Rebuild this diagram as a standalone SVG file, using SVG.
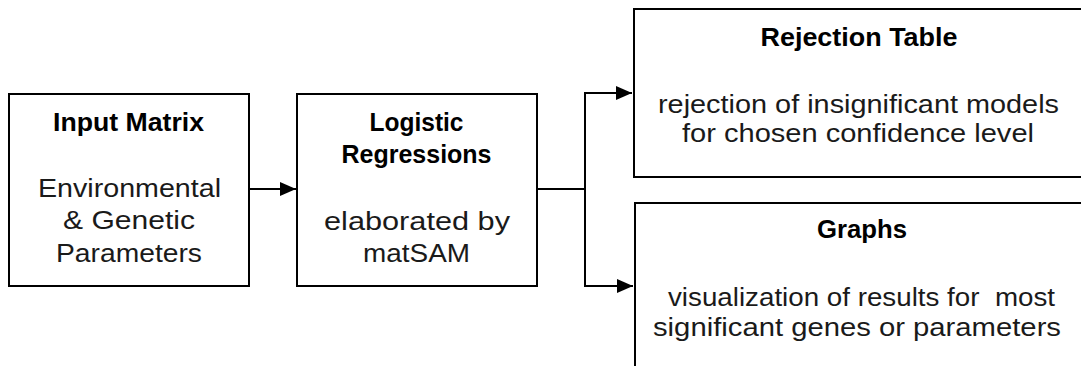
<svg xmlns="http://www.w3.org/2000/svg" width="1081" height="366" viewBox="0 0 1081 366">
  <style>
    .box { fill: #ffffff; stroke: #000000; stroke-width: 2; }
    .title { font-family: "Liberation Sans", Arial, sans-serif; font-weight: bold; font-size: 25px; fill: #000000; text-anchor: middle; }
    .body { font-family: "Liberation Sans", Arial, sans-serif; font-size: 25px; fill: #1a1a1a; text-anchor: middle; white-space: pre; }
    .wire { fill: none; stroke: #000000; stroke-width: 2; }
  </style>
  <defs>
    <marker id="arrow" markerUnits="userSpaceOnUse" markerWidth="17" markerHeight="15" refX="16" refY="7" orient="auto">
      <path d="M0,0 L16,7 L0,14 Z" fill="#000000"/>
    </marker>
  </defs>
  <rect width="1081" height="366" fill="#ffffff"/>

  <g id="connectors">
    <line class="wire" x1="249" y1="189" x2="296" y2="189" marker-end="url(#arrow)"/>
    <polyline class="wire" points="537,189 585,189 585,93 632,93" marker-end="url(#arrow)"/>
    <polyline class="wire" points="585,189 585,286 633,286" marker-end="url(#arrow)"/>
  </g>

  <g id="input-matrix">
    <rect class="box" x="9" y="94" width="240" height="192"/>
    <text class="title" x="128.5" y="131" textLength="151" lengthAdjust="spacingAndGlyphs">Input Matrix</text>
    <text class="body" x="129.5" y="197" textLength="183" lengthAdjust="spacingAndGlyphs">Environmental</text>
    <text class="body" x="129" y="229" textLength="132" lengthAdjust="spacingAndGlyphs">&amp; Genetic</text>
    <text class="body" x="129" y="262" textLength="146" lengthAdjust="spacingAndGlyphs">Parameters</text>
  </g>

  <g id="logistic-regressions">
    <rect class="box" x="297" y="94" width="240" height="192"/>
    <text class="title" x="416.5" y="131" textLength="94" lengthAdjust="spacingAndGlyphs">Logistic</text>
    <text class="title" x="416.5" y="163" textLength="150" lengthAdjust="spacingAndGlyphs">Regressions</text>
    <text class="body" x="417" y="230" textLength="186" lengthAdjust="spacingAndGlyphs">elaborated by</text>
    <text class="body" x="416.5" y="262" textLength="107" lengthAdjust="spacingAndGlyphs">matSAM</text>
  </g>

  <g id="rejection-table">
    <rect class="box" x="634" y="9" width="460" height="168"/>
    <text class="title" x="859" y="46" textLength="197" lengthAdjust="spacingAndGlyphs">Rejection Table</text>
    <text class="body" x="858.5" y="113" textLength="401" lengthAdjust="spacingAndGlyphs">rejection of insignificant models</text>
    <text class="body" x="858" y="142" textLength="352" lengthAdjust="spacingAndGlyphs">for chosen confidence level</text>
  </g>

  <g id="graphs">
    <rect class="box" x="635" y="203" width="460" height="200"/>
    <text class="title" x="862" y="238" textLength="90" lengthAdjust="spacingAndGlyphs">Graphs</text>
    <text class="body" x="861.5" y="306" textLength="387" lengthAdjust="spacingAndGlyphs">visualization of results for  most</text>
    <text class="body" x="857" y="336" textLength="408" lengthAdjust="spacingAndGlyphs">significant genes or parameters</text>
  </g>
</svg>
